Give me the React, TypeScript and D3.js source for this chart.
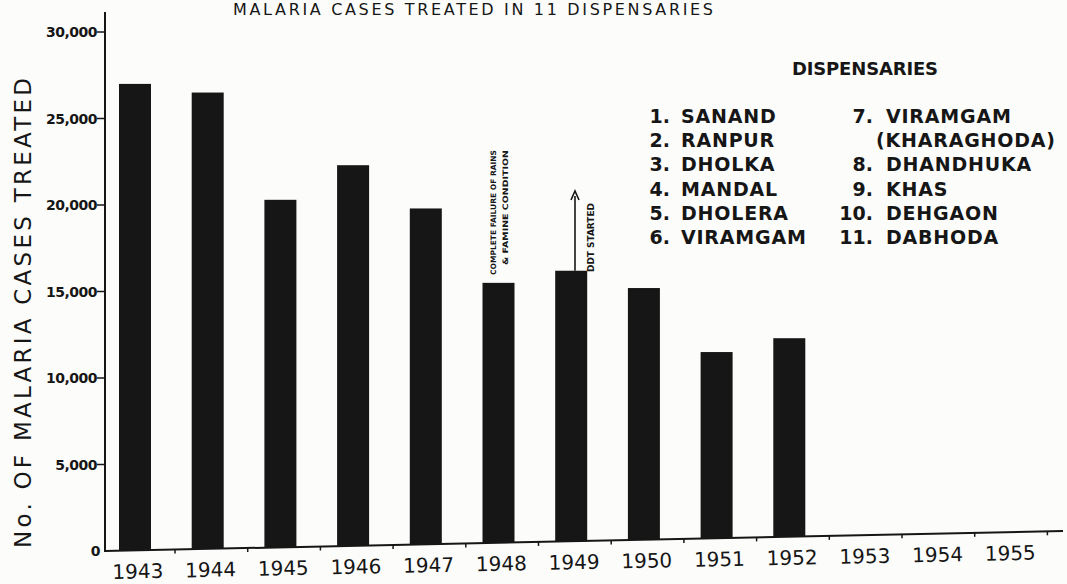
import React from 'react';
import * as d3 from 'd3';

// chart data
const years = ['1943', '1944', '1945', '1946', '1947', '1948', '1949', '1950', '1951', '1952', '1953', '1954', '1955'];
const casesTreated = [27000, 26500, 20300, 22300, 19800, 15500, 16200, 15200, 11500, 12300];
const yTicks = [0, 5000, 10000, 15000, 20000, 25000, 30000];
const dispensariesLeft = ['SANAND', 'RANPUR', 'DHOLKA', 'MANDAL', 'DHOLERA', 'VIRAMGAM'];
const dispensariesRight = [
  { n: '7.', name: 'VIRAMGAM' },
  { n: '', name: '(KHARAGHODA)' },
  { n: '8.', name: 'DHANDHUKA' },
  { n: '9.', name: 'KHAS' },
  { n: '10.', name: 'DEHGAON' },
  { n: '11.', name: 'DABHODA' },
];

const W = 1067;
const H = 584;
const INK = '#161616';
const FONT = '"DejaVu Sans", sans-serif';

const App: React.FC = () => {
  // axis frame
  const axisX = 105;
  const zeroY = 551;
  const axisRight = 1063;
  const tilt = 0.0209; // the scanned x axis rises slightly to the right
  const baseY = (x: number) => zeroY - (x - axisX) * tilt;
  const tiltDeg = -Math.atan(tilt) * 180 / Math.PI;

  const y = d3.scaleLinear().domain([0, 30000]).range([zeroY, 32]);
  const x = d3.scalePoint<string>().domain(years).range([135, 135 + 12 * 72.7]);
  const barW = 32;

  const legendRowY = (i: number) => 123 + i * 24.2;

  return (
    <svg width={W} height={H} style={{ position: 'absolute', left: 0, top: 0, background: '#fcfcfa' }}>
      {/* title */}
      <text x={233} y={15} fontFamily={FONT} fontSize={16} fill={INK} textLength={480} lengthAdjust="spacing">
        MALARIA  CASES  TREATED  IN  11  DISPENSARIES
      </text>

      {/* y axis title */}
      <text
        transform={`translate(31,${313}) rotate(-90)`}
        textAnchor="middle"
        fontFamily={FONT}
        fontSize={23}
        fill={INK}
        textLength={470}
        lengthAdjust="spacing"
      >
        No. OF MALARIA CASES TREATED
      </text>

      {/* bars */}
      {casesTreated.map((v, i) => {
        const cx = x(years[i])!;
        const top = y(v);
        return (
          <rect key={years[i]} x={cx - barW / 2} y={top} width={barW} height={baseY(cx) - top} fill={INK} />
        );
      })}

      {/* y axis */}
      <line x1={axisX} x2={axisX} y1={zeroY + 1} y2={12} stroke={INK} strokeWidth={2} />
      {yTicks.map(t => (
        <g key={t}>
          {t > 0 && <line x1={97} x2={axisX} y1={y(t)} y2={y(t)} stroke={INK} strokeWidth={1.5} />}
          <text
            x={t > 0 ? 97 : 100}
            y={y(t) + 5}
            textAnchor="end"
            fontFamily={FONT}
            fontSize={14}
            fontWeight="bold"
            letterSpacing={-0.5}
            fill={INK}
          >
            {t > 0 ? d3.format(',')(t) : '0'}
          </text>
        </g>
      ))}

      {/* x axis, slightly tilted as in the scan */}
      <line x1={axisX} y1={baseY(axisX)} x2={axisRight} y2={baseY(axisRight)} stroke={INK} strokeWidth={2} />
      {years.map(yr => {
        const cx = x(yr)!;
        const tx = cx + 40;
        return (
          <g key={yr}>
            {tx < axisRight && (
              <line x1={tx} x2={tx} y1={baseY(tx)} y2={baseY(tx) + 4} stroke={INK} strokeWidth={1.5} />
            )}
            <text
              transform={`translate(${cx + 3},${baseY(cx) + 28}) rotate(${tiltDeg})`}
              textAnchor="middle"
              fontFamily={FONT}
              fontSize={20}
              fill={INK}
            >
              {yr}
            </text>
          </g>
        );
      })}

      {/* 1948 note */}
      <text
        transform={`translate(496,275) rotate(-90)`}
        fontFamily={FONT}
        fontSize={7.5}
        fontWeight="bold"
        fill={INK}
        textLength={125}
        lengthAdjust="spacingAndGlyphs"
      >
        COMPLETE FAILURE OF RAINS
      </text>
      <text
        transform={`translate(508,265) rotate(-90)`}
        fontFamily={FONT}
        fontSize={7.5}
        fontWeight="bold"
        fill={INK}
        textLength={115}
        lengthAdjust="spacingAndGlyphs"
      >
        &amp; FAMINE CONDITION
      </text>

      {/* 1949 note: DDT started */}
      <line x1={575} x2={575} y1={y(16200)} y2={196} stroke={INK} strokeWidth={1.6} />
      <path d="M571,200 L575,191 L579,200" fill="none" stroke={INK} strokeWidth={1.6} />
      <text
        transform={`translate(594,272) rotate(-90)`}
        fontFamily={FONT}
        fontSize={8}
        fontWeight="bold"
        fill={INK}
        textLength={69}
        lengthAdjust="spacingAndGlyphs"
      >
        DDT STARTED
      </text>

      {/* legend */}
      <text x={865} y={75} textAnchor="middle" fontFamily={FONT} fontSize={18} fontWeight="bold" fill={INK} textLength={146} lengthAdjust="spacing">
        DISPENSARIES
      </text>
      {dispensariesLeft.map((d, i) => (
        <g key={d + i} fontFamily={FONT} fontSize={19} fontWeight="bold" fill={INK}>
          <text x={670} y={legendRowY(i)} textAnchor="end">{`${i + 1}.`}</text>
          <text x={681} y={legendRowY(i)} letterSpacing={0.8}>{d}</text>
        </g>
      ))}
      {dispensariesRight.map((d, i) => (
        <g key={d.name} fontFamily={FONT} fontSize={19} fontWeight="bold" fill={INK}>
          {d.n && <text x={873} y={legendRowY(i)} textAnchor="end">{d.n}</text>}
          <text x={d.n ? 886 : 876} y={legendRowY(i)} letterSpacing={0.8}>{d.name}</text>
        </g>
      ))}
    </svg>
  );
};

export default App;
